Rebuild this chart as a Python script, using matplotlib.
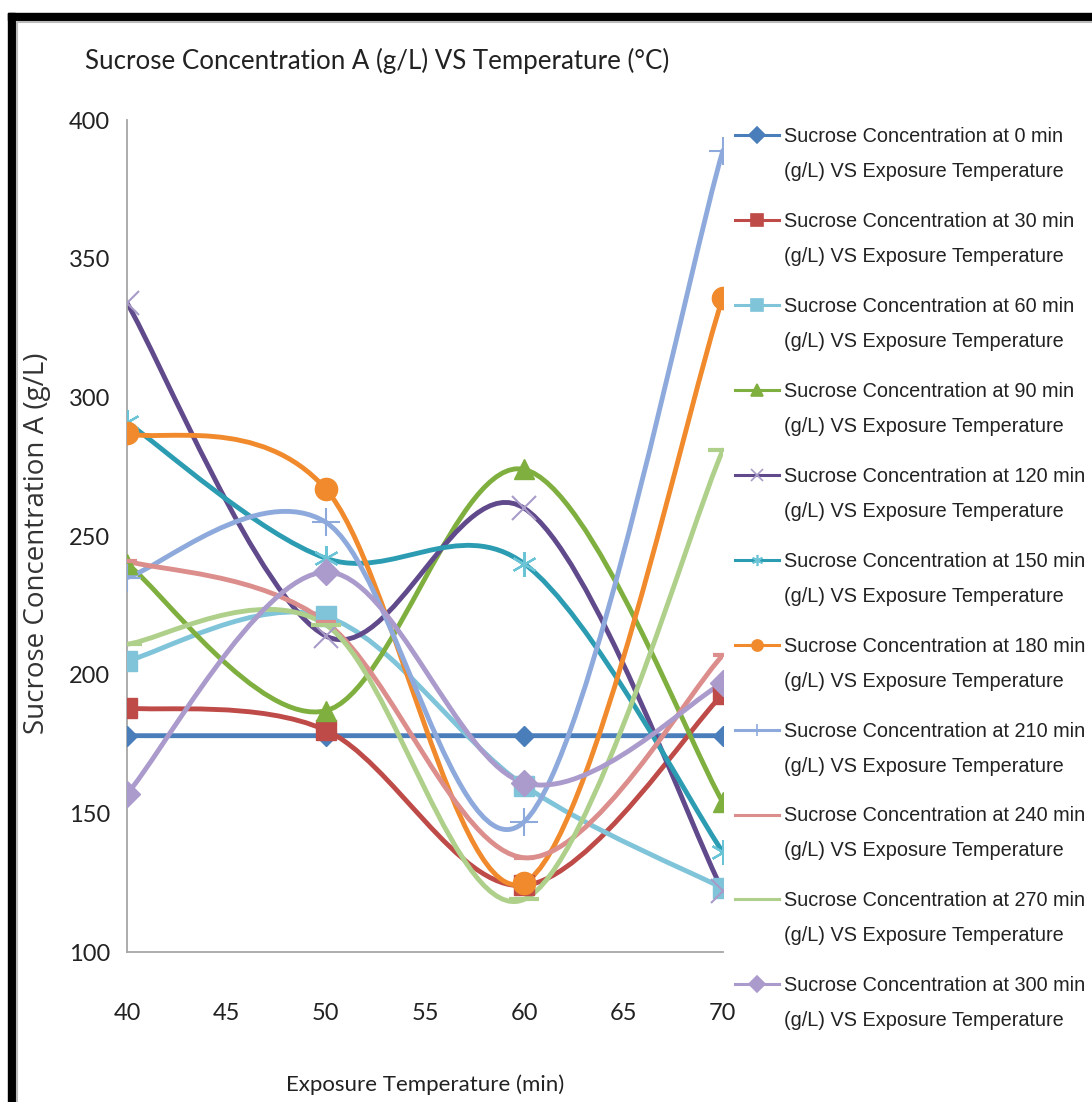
import matplotlib
matplotlib.use("Agg")
import matplotlib.pyplot as plt
from matplotlib.path import Path
from matplotlib.patches import PathPatch, Rectangle
from matplotlib.lines import Line2D

temps = [40, 50, 60, 70]

minutes = [0, 30, 60, 90, 120, 150, 180, 210, 240, 270, 300]
conc = {
    0:   [178, 178, 178, 178],
    30:  [188, 180, 124, 193],
    60:  [205, 221, 160, 123],
    90:  [240, 187, 274, 154],
    120: [334, 214, 260, 122],
    150: [291, 242, 240, 136],
    180: [287, 267, 125, 336],
    210: [235, 255, 147, 389],
    240: [241, 219, 134, 207],
    270: [211, 218, 119, 281],
    300: [157, 237, 161, 197],
}

colors = {
    0: "#4a7ebb", 30: "#be4b48", 60: "#7fc4d9", 90: "#7fb03f",
    120: "#604a8b", 150: "#2c9cb2", 180: "#f08a2c", 210: "#8eaadc",
    240: "#dc8e8c", 270: "#aed08a", 300: "#aa9bcc",
}
marker_colors = {
    120: "#a89bc8", 150: "#6ac4d6", 210: "#8eaadc",
}
markers = {
    0: ("D", 10), 30: ("s", 15), 60: ("s", 15), 90: ("^", 15),
    120: ("x", 17), 150: ("*", 0), 180: ("o", 16), 210: ("+", 20),
    240: ("_", 14), 270: ("_", 22), 300: ("D", 13),
}


def smooth_path(xs, ys):
    # Bezier curve through the points, control points a la Excel smoothed line
    verts = [(xs[0], ys[0])]
    codes = [Path.MOVETO]
    n = len(xs)
    for i in range(n - 1):
        x0, y0 = (xs[i - 1], ys[i - 1]) if i > 0 else (xs[i], ys[i])
        x1, y1 = xs[i], ys[i]
        x2, y2 = xs[i + 1], ys[i + 1]
        x3, y3 = (xs[i + 2], ys[i + 2]) if i + 2 < n else (x2, y2)
        c1 = (x1 + (x2 - x0) / 6.0, y1 + (y2 - y0) / 6.0)
        c2 = (x2 - (x3 - x1) / 6.0, y2 - (y3 - y1) / 6.0)
        verts += [c1, c2, (x2, y2)]
        codes += [Path.CURVE4] * 3
    return Path(verts, codes)


fig = plt.figure(figsize=(10.92, 11.02), dpi=100)
ax = fig.add_axes([0.1163, 0.1361, 0.5457, 0.755])

handles = []
for m in minutes:
    c = colors[m]
    mc = marker_colors.get(m, c)
    ys = conc[m]
    ax.add_patch(PathPatch(smooth_path(temps, ys), facecolor="none",
                           edgecolor=c, lw=3.5, capstyle="round",
                           joinstyle="round", zorder=2))
    mk, ms = markers[m]
    if m == 150:
        # asterisk marker
        ax.plot(temps, ys, ls="none", marker=(6, 2, 0), ms=18,
                mec=mc, mew=1.6, zorder=3)
        hmk = (6, 2, 0)
    elif mk in ("x", "+", "_"):
        ax.plot(temps, ys, ls="none", marker=mk, ms=ms, mec=mc,
                mew=3 if mk == "_" else 1.5, zorder=3)
        hmk = mk
    else:
        ax.plot(temps, ys, ls="none", marker=mk, ms=ms, mfc=c, mec=c,
                zorder=3)
        hmk = mk
    handles.append(Line2D([], [], color=c, lw=2.2, marker=hmk,
                          ms=8 if hmk not in ("_",) else 6,
                          mfc=mc, mec=mc, mew=1.2))

ax.set_xlim(40, 70)
ax.set_ylim(100, 400)
ax.set_xticks(range(40, 71, 5))
ax.set_yticks(range(100, 401, 50))
ax.spines["top"].set_visible(False)
ax.spines["right"].set_visible(False)
for s in ("left", "bottom"):
    ax.spines[s].set_color("#a6a6a6")
    ax.spines[s].set_linewidth(1.3)
ax.tick_params(length=0, labelsize=17, colors="#222222", pad=12)
for lab in ax.get_xticklabels() + ax.get_yticklabels():
    lab.set_family(["Lato", "DejaVu Sans"])
ax.tick_params(axis="x", pad=37)

ax.set_xlabel("Exposure Temperature (min)", fontsize=16,
              family=["Lato", "DejaVu Sans"], color="#222222", labelpad=36)
fig.text(0.034, 0.507, "Sucrose Concentration A (g/L)", rotation=90,
         ha="center", va="center", fontsize=20,
         family=["Open Sans", "DejaVu Sans"], color="#333333")
fig.text(0.078, 0.945, "Sucrose Concentration A (g/L) VS Temperature (\u00b0C)",
         ha="left", va="center", fontsize=18.6,
         family=["Lato", "DejaVu Sans"], color="#222222")

# legend: first line of each label goes in the legend, second line below it
leg_font = {"family": ["Liberation Sans", "DejaVu Sans"], "size": 14.3}
labels = [f"Sucrose Concentration at {m} min" for m in minutes]
leg = fig.legend(handles, labels, loc="upper left",
                 bbox_to_anchor=(0.657, 0.901), frameon=False,
                 prop=leg_font, handlelength=2.2, handletextpad=0.25,
                 labelspacing=3.32)
for t in leg.get_texts():
    t.set_color("#222222")

fig.canvas.draw()
inv = fig.transFigure.inverted()
for t in leg.get_texts():
    bb = t.get_window_extent()
    x0, yc = inv.transform((bb.x0, (bb.y0 + bb.y1) / 2 - 35))
    fig.text(x0, yc, "(g/L) VS Exposure Temperature", ha="left", va="center",
             color="#222222", **leg_font)

# outer frame
fig.add_artist(Rectangle((8 / 1092, 0), 7 / 1092, 1 - 13 / 1102,
                         transform=fig.transFigure, color="black"))
fig.add_artist(Rectangle((8 / 1092, 1 - 20 / 1102), 1, 7 / 1102,
                         transform=fig.transFigure, color="black"))
fig.add_artist(Line2D([17 / 1092, 1], [1 - 22 / 1102] * 2,
                      transform=fig.transFigure, color="#bbbbbb", lw=1.5))
fig.add_artist(Line2D([17 / 1092] * 2, [0, 1 - 22 / 1102],
                      transform=fig.transFigure, color="#bbbbbb", lw=1.5))

fig.savefig("out.png", dpi=100)
